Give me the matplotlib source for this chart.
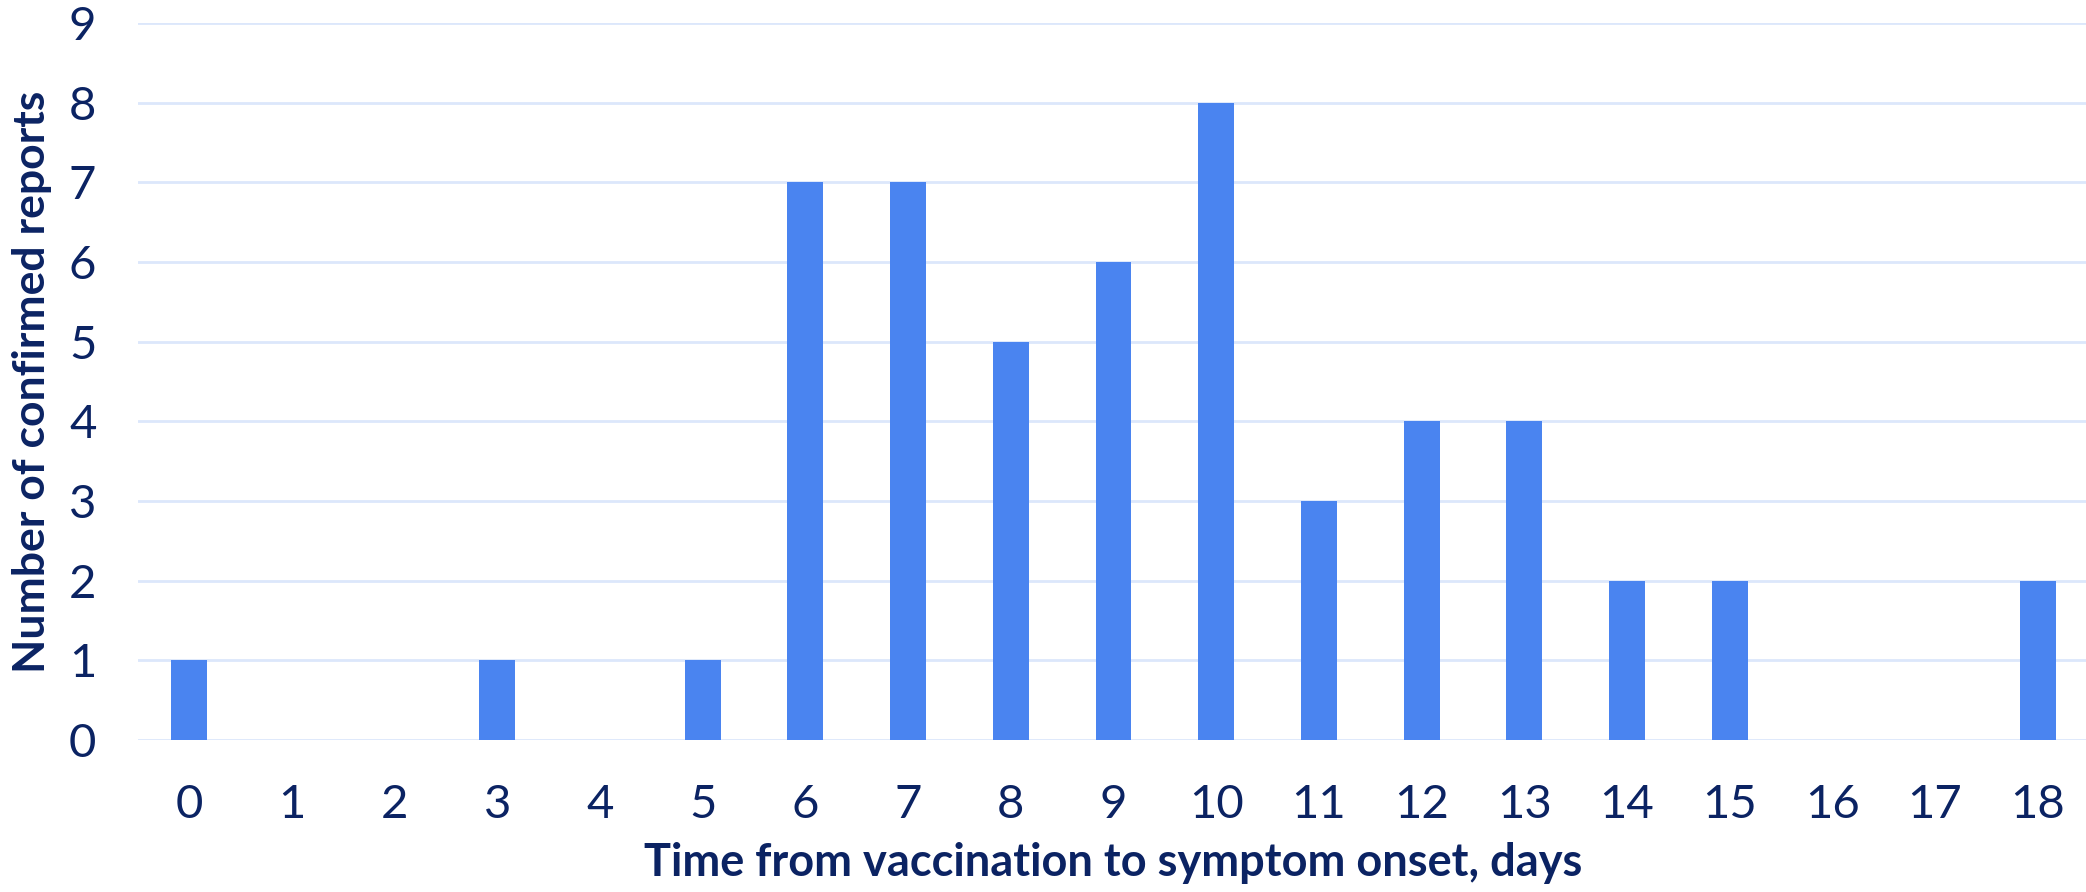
import matplotlib
matplotlib.use("Agg")
import matplotlib.pyplot as plt
import numpy as np

# days since vaccination and report counts
days = ["0", "1", "2", "3", "4", "5", "6", "7", "8", "9",
        "10", "11", "12", "13", "14", "15", "16", "17", "18"]
reports = [1, 0, 0, 1, 0, 1, 7, 7, 5, 6, 8, 3, 4, 4, 2, 2, 0, 0, 2]
y_ticks = [0, 1, 2, 3, 4, 5, 6, 7, 8, 9]

navy = "#0b2363"
bar_color = "#4a84f0"
grid_color = "#dce7fb"

plt.rcParams['font.family'] = ['Lato', 'DejaVu Sans']

fig = plt.figure(figsize=(20.86, 8.92), dpi=100)
ax = fig.add_axes([138 / 2086, 1 - 740 / 892, 1951 / 2086, (740 - 23) / 892])

x = np.arange(len(days))
ax.bar(x, reports, width=0.35, color=bar_color, linewidth=0, zorder=3)

ax.set_xlim(-0.5, len(days) - 0.5)
ax.set_ylim(0, 9)
ax.set_yticks(y_ticks)
ax.set_xticks(x)
ax.set_xticklabels(days)
ax.yaxis.grid(True, color=grid_color, linewidth=2, zorder=0)
ax.set_axisbelow(True)
for s in ax.spines.values():
    s.set_visible(False)
ax.tick_params(axis="both", length=0, labelsize=34, colors=navy)
ax.tick_params(axis="x", pad=32)
ax.tick_params(axis="y", pad=30)

ax.set_xlabel("Time from vaccination to symptom onset, days", fontsize=32.5,
              fontweight="bold", color=navy, labelpad=11)
ax.set_ylabel("Number of confirmed reports", fontsize=32,
              fontweight="bold", color=navy, labelpad=12)

fig.savefig("out.png", dpi=100)
